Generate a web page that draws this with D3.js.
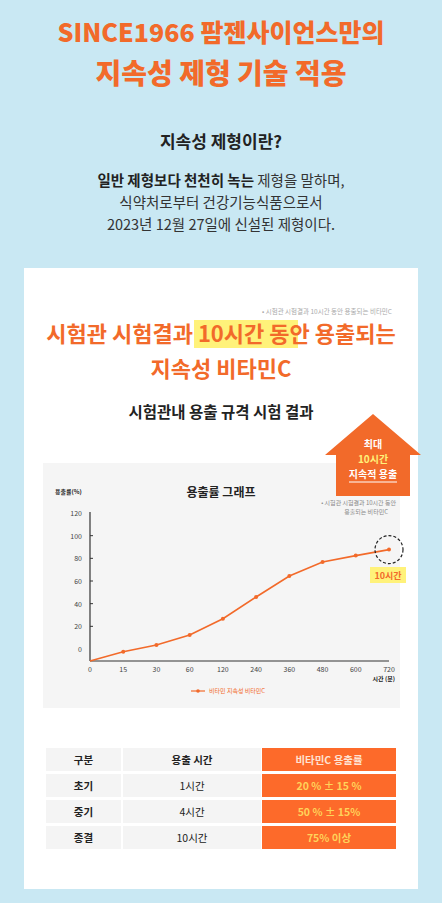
<!DOCTYPE html>
<html><head><meta charset="utf-8">
<script src="https://cdn.jsdelivr.net/npm/d3@7"></script>
<style>body{margin:0;background:#c9e8f3;}svg{display:block;font-family:"Noto Sans CJK KR","Noto Sans",sans-serif;}</style>
</head><body><svg id="c" width="442" height="903"></svg>
<script>
const times = ["0","15","30","60","120","240","360","480","600","720"];
const release = [0, 8.2, 14.1, 23, 37.3, 56.5, 75, 87.4, 93, 98.3];
const yTicks = [0,20,40,60,80,100,120];
const tableHead = ["구분","용출 시간","비타민C 용출률"];
const stages = ["초기","중기","종결"];
const hours = ["1시간","4시간","10시간"];
const rates = ["20 % ± 15 %","50 % ± 15%","75% 이상"];

const OR="#f26a2a", svg=d3.select("#c");
svg.append("rect").attr("width",442).attr("height",903).attr("fill","#c9e8f3");
const T=(x,y,t,o={})=>svg.append("text").attr("x",x).attr("y",y).text(t)
  .attr("text-anchor",o.a||"middle").attr("font-size",o.s||14).attr("font-weight",o.w||400).attr("fill",o.f||"#222");
T(221,42,"SINCE1966 팜젠사이언스만의",{s:25,w:900,f:OR});
T(221,84,"지속성 제형 기술 적용",{s:28,w:900,f:OR});
T(221,148,"지속성 제형이란?",{s:17,w:700});
const t1=T(221,186,"",{s:14.5,f:"#333"});
t1.append("tspan").attr("font-weight",700).attr("fill","#222").text("일반 제형보다 천천히 녹는");
t1.append("tspan").text(" 제형을 말하며,");
T(221,208,"식약처로부터 건강기능식품으로서",{s:14.5,f:"#333"});
T(221,230,"2023년 12월 27일에 신설된 제형이다.",{s:14.5,f:"#333"});
svg.append("rect").attr("x",24).attr("y",268).attr("width",394).attr("height",621).attr("fill","#fff");
T(392,314,"• 시험관 시험결과 10시간 동안 용출되는 비타민C",{a:"end",s:6.5,f:"#aaa"});
svg.append("rect").attr("x",194).attr("y",320).attr("width",104).attr("height",28).attr("fill","#fff27a");
T(221,342,"시험관 시험결과 10시간 동안 용출되는",{s:22,w:700,f:OR});
T(221,377,"지속성 비타민C",{s:22,w:700,f:OR});
T(221,418,"시험관내 용출 규격 시험 결과",{s:15.5,w:700});
svg.append("rect").attr("x",43).attr("y",463).attr("width",357).attr("height",245).attr("fill","#f5f5f5");
svg.append("path").attr("d","M373,414 L421,455 L410,455 L410,496 L336,496 L336,455 L325,455 Z").attr("fill",OR);
T(373,448,"최대",{s:10,w:700,f:"#fff"});
T(373,463,"10시간",{s:10,w:700,f:"#fff27a"});
T(373,478,"지속적 용출",{s:10,w:700,f:"#fff"});
svg.append("line").attr("x1",349).attr("x2",397).attr("y1",482).attr("y2",482).attr("stroke","#fff");
T(396,505,"• 시험관 시험결과 10시간 동안",{a:"end",s:6,f:"#888"});
T(388,514,"용출되는 비타민C",{a:"end",s:6,f:"#888"});
T(221,497,"용출률 그래프",{s:12,w:700});
T(55,494,"용출률(%)",{a:"start",s:6,w:700});
T(395,681,"시간 (분)",{a:"end",s:6,w:700});
const x=d3.scalePoint().domain(times).range([90,389]);
const y=d3.scaleLinear().domain([0,120]).range([661,525]);
const g=svg.append("g");
g.append("line").attr("x1",90).attr("x2",389).attr("y1",661).attr("y2",661).attr("stroke","#333").attr("stroke-width",1.2);
g.append("line").attr("x1",90).attr("x2",90).attr("y1",512).attr("y2",661).attr("stroke","#333").attr("stroke-width",1.2);
yTicks.forEach(v=>{
  g.append("text").attr("x",82).attr("y",y(v)-12+3).attr("text-anchor","end").attr("font-size",7).attr("fill","#444").text(v);
  if(v>0&&v<120) g.append("line").attr("x1",90).attr("x2",93).attr("y1",y(v)-12).attr("y2",y(v)-12).attr("stroke","#333");
});
times.forEach(t=>g.append("text").attr("x",x(t)).attr("y",672).attr("text-anchor","middle").attr("font-size",7).attr("fill","#444").text(t));
const pts=times.map((t,i)=>[x(t),y(release[i])]);
g.append("path").attr("d",d3.line()(pts)).attr("fill","none").attr("stroke",OR).attr("stroke-width",1.6);
g.selectAll("circle").data(pts.slice(1)).join("circle").attr("cx",d=>d[0]).attr("cy",d=>d[1]).attr("r",2).attr("fill",OR);
const last=pts[pts.length-1];
g.append("circle").attr("cx",last[0]).attr("cy",last[1]).attr("r",14).attr("fill","none").attr("stroke","#222").attr("stroke-dasharray","3,2").attr("stroke-width",1.2);
svg.append("rect").attr("x",370).attr("y",567).attr("width",36).attr("height",16).attr("fill","#fff27a");
T(388,579,"10시간",{s:9,w:700,f:OR});
g.append("line").attr("x1",191).attr("x2",205).attr("y1",691).attr("y2",691).attr("stroke",OR).attr("stroke-width",1.2);
g.append("circle").attr("cx",198).attr("cy",691).attr("r",1.8).attr("fill",OR);
T(209,693,"비타민 지속성 비타민C",{a:"start",s:6,f:OR});
const cols=[[46,75],[123,138],[262,134]], rows=[748,774,800,826], rh=23;
rows.forEach((ry,ri)=>cols.forEach((c,ci)=>{
  const orange=ci===2;
  svg.append("rect").attr("x",c[0]).attr("y",ry).attr("width",c[1]).attr("height",rh).attr("fill",orange?"#fd6a2a":"#f4f4f4");
  let txt, o={s:10.5,w:ci===0||ri===0?700:400,f:"#222"};
  if(ri===0){txt=tableHead[ci]; if(orange) o.f="#ffe2d2";}
  else {txt=[stages,hours,rates][ci][ri-1]; if(orange){o.f="#ffd35a";o.w=700;}}
  T(c[0]+c[1]/2,ry+16,txt,o);
}));
</script></body></html>
